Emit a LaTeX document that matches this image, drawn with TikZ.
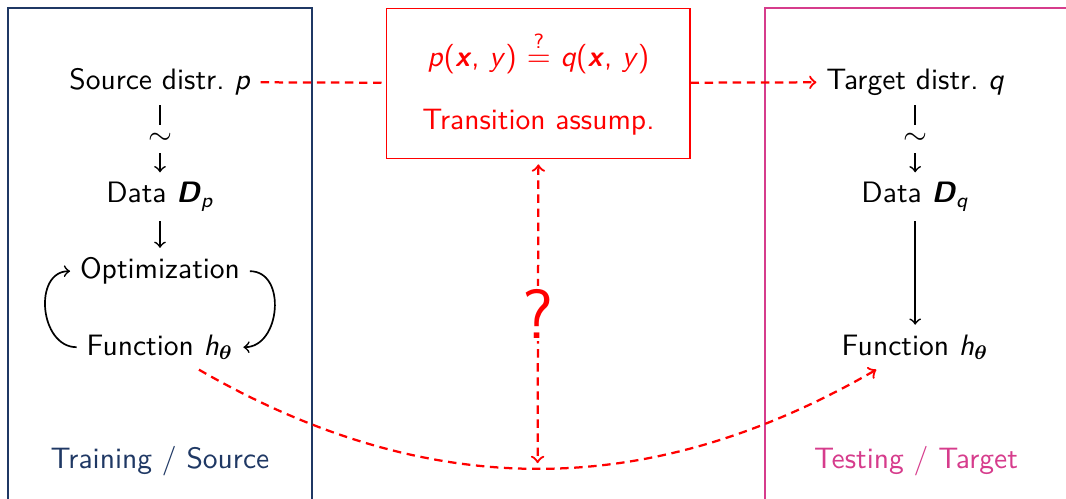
\documentclass[tikz,border=0pt]{standalone}
\usepackage{amsmath}
\usetikzlibrary{positioning}
\renewcommand{\familydefault}{\sfdefault}
\definecolor{srcblue}{RGB}{31,56,100}
\definecolor{tgtpink}{RGB}{214,60,140}
\newcommand{\vx}{\textbf{\textit{x}}}
\newcommand{\hfun}{\textit{h}$_{\boldsymbol{\theta}}$}

\begin{document}
\begin{tikzpicture}[>=to,
        every node/.style={font=\fontsize{10.5pt}{12.6pt}\selectfont},
        flow/.style={semithick},
        redarr/.style={red, thick, dash pattern=on 3pt off 2pt},
        sample/.style={fill=white, inner sep=3pt},
        transbox/.style={draw=red, text=red, minimum width=3.79cm,
                         minimum height=1.875cm, align=center}]
    \useasboundingbox (0,0) rectangle (13.325,-6.2375);

    % frames of the two domains
    \draw[srcblue] (0.1,-6.4) |- (3.9,-0.1) -- (3.9,-6.4);
    \draw[tgtpink] (9.5625,-6.4) |- (13.5,-0.1);

    % source side
    \node (src) at (2.0,-1.025) {Source distr.~\textit{p}};
    \node (dp)  at (2.0,-2.46)  {Data \textbf{\textit{D}}$_{\textit{p}}$};
    \node (opt) at (2.0,-3.39)  {Optimization};
    \node (fl)  at (2.0,-4.34)  {Function \hfun};
    \node[text=srcblue] (trainlbl) at (2.0,-5.76) {Training / Source};

    % target side
    \node (tgt) at (11.44,-1.025) {Target distr.~\textit{q}};
    \node (dq)  at (11.44,-2.46)  {Data \textbf{\textit{D}}$_{\textit{q}}$};
    \node (fr)  at (11.44,-4.34)  {Function \hfun};
    \node[text=tgtpink] (testlbl) at (11.45,-5.76) {Testing / Target};

    % transition assumption
    \node[transbox] (trans) at (6.73,-1.04)
        {\textit{p}(\vx, \textit{y}) $\stackrel{\text{?}}{=}$ \textit{q}(\vx, \textit{y})\\[10pt]
         Transition assump.};

    \draw[flow, ->] (src) -- node[sample] {$\sim$} (dp);
    \draw[flow, ->] (dp) -- (opt);
    \draw[flow, ->] (opt.east) to[out=0, in=0, looseness=1.25] (fl.east);
    \draw[flow, ->] (fl.west) to[out=180, in=180, looseness=1.25] (opt.west);

    \draw[flow, ->] (tgt) -- node[sample] {$\sim$} (dq);
    \draw[flow, ->] (dq) -- (fr);

    \draw[redarr] (src) -- (trans);
    \draw[redarr, ->] (trans) -- (tgt);
    \draw[redarr, ->] (fl.-30) to[out=-30, in=-150] coordinate[pos=0.5] (bot) (fr.-150);
    \draw[redarr, <->, shorten <=2pt, shorten >=2pt] (trans.south) --
        node[fill=white, inner sep=1pt, font=\Huge] (qmark) {?} (bot);
\end{tikzpicture}
\end{document}
